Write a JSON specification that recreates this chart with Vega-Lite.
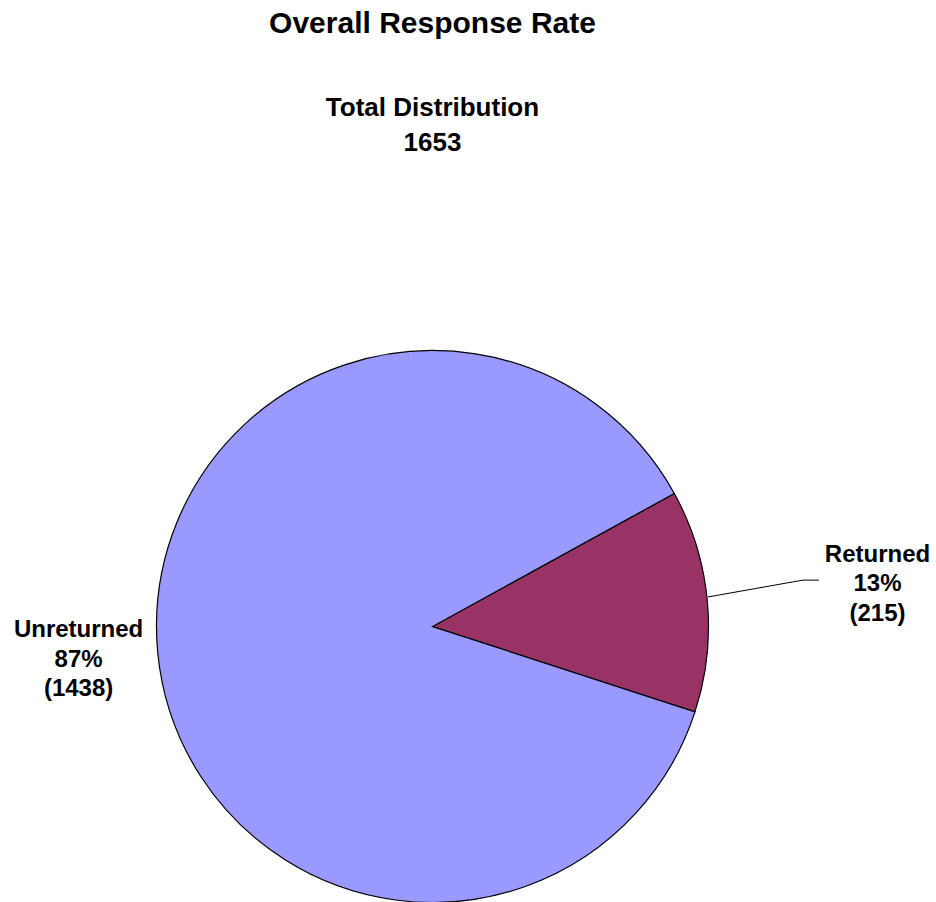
{
  "$schema": "https://vega.github.io/schema/vega-lite/v6.json",
  "width": 865,
  "height": 552,
  "autosize": "none",
  "padding": {"left": 0, "top": 350.5, "right": 71, "bottom": 0},
  "background": "white",
  "config": {"view": {"stroke": null}, "font": "Liberation Sans"},
  "title": {
    "text": "Overall Response Rate",
    "subtitle": ["Total Distribution", "1653"],
    "anchor": "middle",
    "frame": "group",
    "font": "Liberation Sans",
    "fontSize": 30,
    "fontWeight": "bold",
    "color": "black",
    "subtitleFont": "Liberation Sans",
    "subtitleFontSize": 26,
    "subtitleFontWeight": "bold",
    "subtitleColor": "black",
    "subtitleLineHeight": 35,
    "subtitlePadding": 56,
    "offset": 192
  },
  "data": {
    "values": [
      {"category": "Returned", "count": 215, "label": ["Returned", "13%", "(215)"]},
      {"category": "Unreturned", "count": 1438, "label": ["Unreturned", "87%", "(1438)"]}
    ]
  },
  "layer": [
    {
      "mark": {"type": "arc", "radius": 276, "stroke": "black", "strokeWidth": 1.2},
      "encoding": {
        "theta": {"field": "count", "type": "quantitative", "stack": true, "scale": {"range": [1.068, 7.351]}},
        "color": {
          "field": "category",
          "type": "nominal",
          "scale": {"domain": ["Returned", "Unreturned"], "range": ["#993366", "#9999FF"]},
          "legend": null
        }
      }
    },
    {
      "mark": {
        "type": "text",
        "font": "Liberation Sans",
        "fontSize": 24,
        "fontWeight": "bold",
        "lineHeight": 29.5,
        "align": "center",
        "baseline": "middle",
        "dy": -29.5,
        "color": "black",
        "radius": 447
      },
      "encoding": {
        "theta": {"field": "count", "type": "quantitative", "stack": true},
        "detail": {"field": "category", "type": "nominal"},
        "text": {"condition": {"test": "datum.category === 'Returned'", "field": "label", "type": "nominal"}, "value": ""}
      }
    },
    {
      "mark": {
        "type": "text",
        "font": "Liberation Sans",
        "fontSize": 24,
        "fontWeight": "bold",
        "lineHeight": 29.5,
        "align": "center",
        "baseline": "middle",
        "dy": -29.5,
        "color": "black",
        "radius": 355.5
      },
      "encoding": {
        "theta": {"field": "count", "type": "quantitative", "stack": true},
        "detail": {"field": "category", "type": "nominal"},
        "text": {"condition": {"test": "datum.category === 'Unreturned'", "field": "label", "type": "nominal"}, "value": ""}
      }
    },
    {
      "data": {
        "values": [
          {"i": 0, "lx": 0.998, "ly": 0.107},
          {"i": 1, "lx": 1.342, "ly": 0.168},
          {"i": 2, "lx": 1.4, "ly": 0.168}
        ]
      },
      "mark": {"type": "line", "stroke": "black", "strokeWidth": 1},
      "encoding": {
        "x": {"field": "lx", "type": "quantitative", "scale": {"domain": [-1.567, 1.567]}, "axis": null},
        "y": {"field": "ly", "type": "quantitative", "scale": {"domain": [-1, 1]}, "axis": null},
        "order": {"field": "i", "type": "quantitative"}
      }
    }
  ]
}
